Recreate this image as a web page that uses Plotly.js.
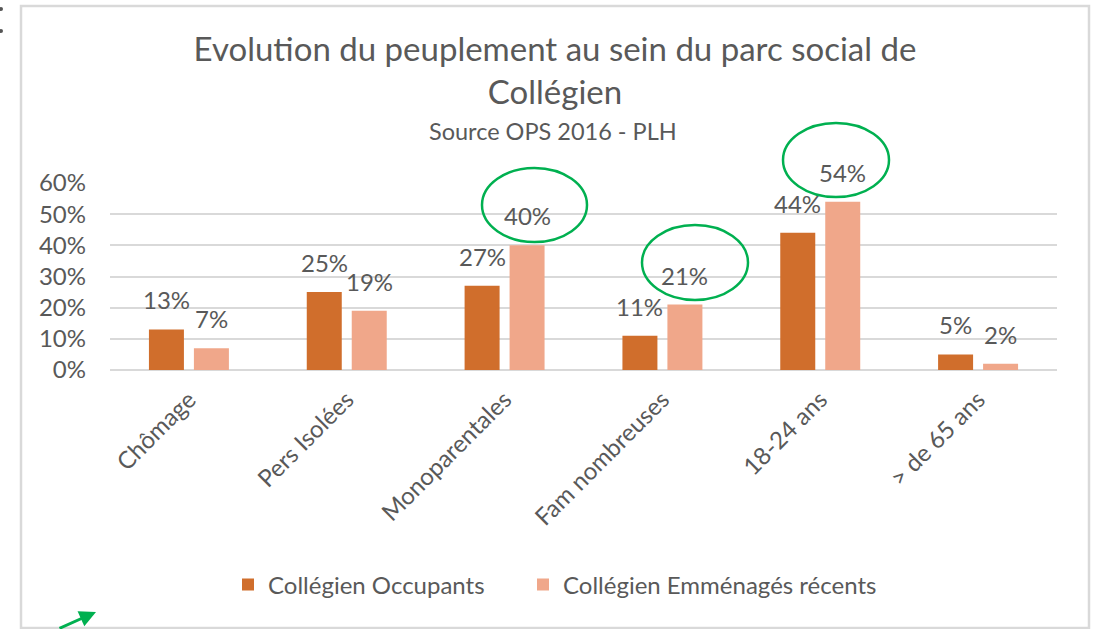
<!DOCTYPE html>
<html>
<head>
<meta charset="utf-8">
<script src="https://cdn.plot.ly/plotly-3.0.1.min.js"></script>
<style>
  html, body { margin: 0; padding: 0; background: #ffffff; }
  #chart { width: 1096px; height: 629px; }
</style>
</head>
<body>
<div id="chart"></div>
<script>
// Categories and series (shares of households)
const categories = ["Chômage", "Pers Isolées", "Monoparentales", "Fam nombreuses", "18-24 ans", "> de 65 ans"];
const occupants = [0.13, 0.25, 0.27, 0.11, 0.44, 0.05];
const recents = [0.07, 0.19, 0.40, 0.21, 0.54, 0.02];
const seriesNames = ["Collégien Occupants", "Collégien Emménagés récents"];
const yTicks = [0, 0.1, 0.2, 0.3, 0.4, 0.5, 0.6];

const W = 1096, H = 629;
const M = { l: 110, r: 39, t: 183, b: 259 };
const plotW = W - M.l - M.r, plotH = H - M.t - M.b;
// pixel -> paper helpers for decorations
const px = x => (x - M.l) / plotW;
const py = y => (H - M.b - y) / plotH;

const FONT = "Lato, 'Open Sans', sans-serif";
const TXT = "#595959";
const DARK = "#D06E2C";
const LIGHT = "#F0A78A";
const GREEN = "#00B050";

const traces = [
  { type: "bar", name: seriesNames[0], x: categories, y: occupants, legendwidth: 250,
    marker: { color: DARK }, hoverinfo: "skip" },
  { type: "bar", name: seriesNames[1], x: categories, y: recents, legendwidth: 340,
    marker: { color: LIGHT }, hoverinfo: "skip" }
];

const pct = v => Math.round(v * 100) + "%";
const annotations = [];
categories.forEach((c, i) => {
  annotations.push({ x: c, y: occupants[i], xref: "x", yref: "y", text: pct(occupants[i]),
    showarrow: false, xshift: -22.5, yshift: 13, yanchor: "bottom",
    font: { family: FONT, size: 24, color: TXT } });
  annotations.push({ x: c, y: recents[i], xref: "x", yref: "y", text: pct(recents[i]),
    showarrow: false, xshift: 22.5, yshift: 13, yanchor: "bottom",
    font: { family: FONT, size: 24, color: TXT } });
});
// subtitle
annotations.push({ x: px(553), y: py(131), xref: "paper", yref: "paper", text: "Source OPS 2016 - PLH",
  showarrow: false, xanchor: "center", yanchor: "middle",
  font: { family: FONT, size: 23.5, color: TXT } });
// green pointer arrow, bottom left
annotations.push({ x: px(96), y: py(612), xref: "paper", yref: "paper", text: "",
  showarrow: true, arrowhead: 2, arrowsize: 1.1, arrowwidth: 3, arrowcolor: GREEN,
  ax: -38, ay: 23 });

const ellipse = (x0, y0, x1, y1) => ({ type: "circle", xref: "paper", yref: "paper",
  x0: px(x0), x1: px(x1), y0: py(y1), y1: py(y0), line: { color: GREEN, width: 2.5 } });

const shapes = [
  // outer frame
  { type: "rect", xref: "paper", yref: "paper", x0: px(21), x1: px(1089), y0: py(628), y1: py(6),
    line: { color: "#d9d9d9", width: 2.5 }, layer: "below" },
  ellipse(482, 168, 587, 242),
  ellipse(642, 225, 748, 300),
  ellipse(783, 123, 889, 197),
  // dots at the top-left edge
  { type: "circle", xref: "paper", yref: "paper", x0: px(-1), x1: px(3), y0: py(11), y1: py(7),
    fillcolor: "#555555", line: { width: 0 } },
  { type: "circle", xref: "paper", yref: "paper", x0: px(-1), x1: px(3), y0: py(33), y1: py(29),
    fillcolor: "#555555", line: { width: 0 } }
];

const layout = {
  width: W, height: H,
  margin: M,
  paper_bgcolor: "#ffffff", plot_bgcolor: "#ffffff",
  font: { family: FONT, color: TXT },
  title: { text: "Evolution du peuplement au sein du parc social de<br>Collégien",
    x: 555 / W, xanchor: "center", y: 1 - 61 / H, yanchor: "middle", yref: "container",
    font: { family: FONT, size: 33, color: TXT } },
  barmode: "group", bargap: 0.43, bargroupgap: 0.222,
  xaxis: { type: "category", tickangle: -45, ticks: "", showgrid: false, showline: false,
    tickfont: { family: FONT, size: 24, color: TXT }, ticklabelstandoff: 10 },
  yaxis: { range: [0, 0.6], tickvals: yTicks, tickformat: ".0%", showgrid: true,
    gridcolor: "#d9d9d9", gridwidth: 2, zeroline: true, zerolinecolor: "#d9d9d9", zerolinewidth: 2,
    showline: false, ticks: "", ticklabelstandoff: 23,
    tickfont: { family: FONT, size: 24, color: TXT } },
  showlegend: true,
  legend: { orientation: "h", x: px(228), xanchor: "left", y: py(585), yanchor: "middle",
    font: { family: FONT, size: 24, color: TXT }, itemwidth: 30 },
  annotations: annotations,
  shapes: shapes
};

Plotly.newPlot("chart", traces, layout, { staticPlot: true, displayModeBar: false });
</script>
</body>
</html>
